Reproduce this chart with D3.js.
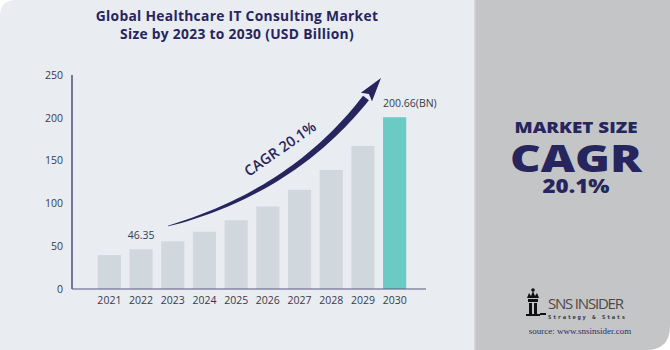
<!DOCTYPE html>
<html>
<head>
<meta charset="utf-8">
<script src="https://cdn.jsdelivr.net/npm/d3@7"></script>
<style>
  html, body { margin: 0; padding: 0; background: #ffffff; }
  svg { display: block; }
</style>
</head>
<body>
<div id="chart"></div>
<script>
const years = ["2021", "2022", "2023", "2024", "2025", "2026", "2027", "2028", "2029", "2030"];
const marketSize = [39.6, 46.35, 55.7, 66.9, 80.3, 96.4, 115.8, 139.1, 167.1, 200.66];
const yTicks = [0, 50, 100, 150, 200, 250];
const valueLabels = { "2022": "46.35", "2030": "200.66(BN)" };
const titleLines = ["Global Healthcare IT Consulting Market", "Size by 2023 to 2030 (USD Billion)"];
const cagrText = "CAGR 20.1%";
const sideLines = ["MARKET SIZE", "CAGR", "20.1%"];

const W = 670, H = 350;
const navy = "#27255e";

const svg = d3.select("#chart").append("svg")
  .attr("width", W)
  .attr("height", H);

// backgrounds
svg.append("path")
  .attr("d", "M0,16 Q0,0 16,0 L474,0 L474,350 L0,350 Z")
  .attr("fill", "#e9ecf1");
svg.append("path")
  .attr("d", "M474,0 L670,0 L670,326 Q670,350 646,350 L474,350 Z")
  .attr("fill", "#c4c5c7");
svg.append("rect")
  .attr("x", 474).attr("y", 0).attr("width", 1.5).attr("height", H)
  .attr("fill", "#d6d7da");

// title
svg.append("g").selectAll("text")
  .data(titleLines)
  .join("text")
  .attr("x", 237)
  .attr("y", (d, i) => 20.5 + i * 18.5)
  .attr("text-anchor", "middle")
  .attr("font-family", "'Open Sans', sans-serif")
  .attr("font-weight", 700)
  .attr("font-size", 13.8)
  .attr("letter-spacing", 0.3)
  .attr("fill", navy)
  .text(d => d);

// scales
const xScale = d3.scaleBand()
  .domain(years)
  .range([94, 410])
  .paddingInner(0.27)
  .paddingOuter(0.12);

const yScale = d3.scaleLinear()
  .domain([0, 250])
  .range([289, 75]);

// bars
svg.append("g").selectAll("rect")
  .data(years)
  .join("rect")
  .attr("x", d => xScale(d))
  .attr("y", (d, i) => yScale(marketSize[i]))
  .attr("width", xScale.bandwidth())
  .attr("height", (d, i) => yScale(0) - yScale(marketSize[i]))
  .attr("fill", d => d === "2030" ? "#6ccac4" : "#d1d8dd");

// axes
const yAxis = d3.axisLeft(yScale).tickValues(yTicks).tickSize(0).tickPadding(9);
const yAxisDrawn = svg.append("g")
  .attr("transform", "translate(72,0)")
  .call(yAxis);
yAxisDrawn.select(".domain").remove();
yAxisDrawn.selectAll("text")
  .attr("font-family", "'Open Sans', sans-serif")
  .attr("font-size", 10.5)
  .attr("fill", "#3a3a4a");

svg.append("line")
  .attr("x1", 72).attr("x2", 72)
  .attr("y1", 75).attr("y2", 289)
  .attr("stroke", navy).attr("stroke-width", 1.2);

const xAxis = d3.axisBottom(xScale).tickSize(0).tickPadding(8);
const xAxisDrawn = svg.append("g")
  .attr("transform", "translate(0,289)")
  .call(xAxis);
xAxisDrawn.select(".domain").remove();
xAxisDrawn.selectAll("text")
  .attr("font-family", "'Open Sans', sans-serif")
  .attr("font-size", 10.5)
  .attr("fill", "#3a3a4a");

svg.append("line")
  .attr("x1", 72).attr("x2", 426)
  .attr("y1", 289).attr("y2", 289)
  .attr("stroke", "#5a5880").attr("stroke-width", 1.2);

// value labels
svg.append("g").selectAll("text")
  .data(Object.keys(valueLabels))
  .join("text")
  .attr("x", d => d === "2030" ? xScale(d) : xScale(d) + xScale.bandwidth() / 2)
  .attr("y", d => yScale(marketSize[years.indexOf(d)]) - 10)
  .attr("text-anchor", d => d === "2030" ? "start" : "middle")
  .attr("font-family", "'Open Sans', sans-serif")
  .attr("font-size", 10.5)
  .attr("fill", "#3a3a4a")
  .text(d => valueLabels[d]);

// tapered CAGR arrow
const p0 = [168, 226], pc = [292, 192], p1 = [366, 98];
const bez = t => [
  (1 - t) * (1 - t) * p0[0] + 2 * (1 - t) * t * pc[0] + t * t * p1[0],
  (1 - t) * (1 - t) * p0[1] + 2 * (1 - t) * t * pc[1] + t * t * p1[1]
];
const upper = [], lower = [];
const n = 40;
for (let i = 0; i <= n; i++) {
  const t = i / n;
  const a = bez(Math.max(0, t - 0.01)), b = bez(Math.min(1, t + 0.01));
  const dx = b[0] - a[0], dy = b[1] - a[1];
  const len = Math.hypot(dx, dy);
  const nx = -dy / len, ny = dx / len;
  const w = 0.3 + 3.4 * Math.pow(t, 0.7);
  const p = bez(t);
  upper.push([p[0] + nx * w, p[1] + ny * w]);
  lower.push([p[0] - nx * w, p[1] - ny * w]);
}
const line = d3.line();
svg.append("path")
  .attr("d", line(upper.concat(lower.reverse())) + "Z")
  .attr("fill", navy);

// arrow head
const tip = [381, 78];
const e = bez(0.97);
const hx = tip[0] - e[0], hy = tip[1] - e[1];
const hl = Math.hypot(hx, hy);
const ux = hx / hl, uy = hy / hl;
const base = [tip[0] - ux * 24, tip[1] - uy * 24];
svg.append("path")
  .attr("d", line([
    tip,
    [base[0] - uy * 7, base[1] + ux * 7],
    [base[0] + ux * 4, base[1] + uy * 4],
    [base[0] + uy * 7, base[1] - ux * 7]
  ]) + "Z")
  .attr("fill", navy);

svg.append("text")
  .attr("transform", "translate(283,153) rotate(-35)")
  .attr("text-anchor", "middle")
  .attr("font-family", "'Open Sans', sans-serif")
  .attr("font-weight", 600)
  .attr("font-size", 14.5)
  .attr("fill", navy)
  .text(cagrText);

// side panel
const sideY = [133, 172, 193];
const sideSize = [15, 37, 19.5];
const sideLen = [123, 132, 67];
svg.append("g")
  .attr("font-family", "'Open Sans', sans-serif")
  .attr("font-weight", 800)
  .attr("fill", navy)
  .attr("text-anchor", "middle")
  .selectAll("text")
  .data(sideLines)
  .join("text")
  .attr("x", 576)
  .attr("y", (d, i) => sideY[i])
  .attr("font-size", (d, i) => sideSize[i])
  .attr("textLength", (d, i) => sideLen[i])
  .attr("lengthAdjust", "spacingAndGlyphs")
  .text(d => d);

// logo
const logo = svg.append("g").attr("fill", "#111");
logo.append("path")
  .attr("d", "M527,298 L529,293 L531,296 L533,291 L535,296 L537,293 L539,298 Z");
logo.append("circle").attr("cx", 533).attr("cy", 290).attr("r", 1.8);
logo.append("rect").attr("x", 528).attr("y", 299).attr("width", 10).attr("height", 3);
logo.append("rect").attr("x", 529).attr("y", 303).attr("width", 3).attr("height", 11);
logo.append("rect").attr("x", 534).attr("y", 303).attr("width", 3).attr("height", 11);
logo.append("rect").attr("x", 526).attr("y", 314).attr("width", 14).attr("height", 2);
logo.append("rect").attr("x", 540).attr("y", 313).attr("width", 6).attr("height", 2);
svg.append("text")
  .attr("x", 548).attr("y", 309)
  .attr("font-family", "'Open Sans', sans-serif")
  .attr("font-size", 15)
  .attr("fill", "#4a4a4a")
  .attr("textLength", 76)
  .text("SNS INSIDER");
svg.append("text")
  .attr("x", 548).attr("y", 318.5)
  .attr("font-family", "'DejaVu Sans Mono', monospace")
  .attr("font-weight", 700)
  .attr("font-size", 5.5)
  .attr("letter-spacing", 1.6)
  .attr("fill", "#333")
  .text("Strategy & Stats");
svg.append("text")
  .attr("x", 580).attr("y", 334)
  .attr("text-anchor", "middle")
  .attr("font-family", "'Liberation Serif', serif")
  .attr("font-size", 9)
  .attr("fill", "#2e2b6a")
  .text("source: www.snsinsider.com");
</script>
</body>
</html>
